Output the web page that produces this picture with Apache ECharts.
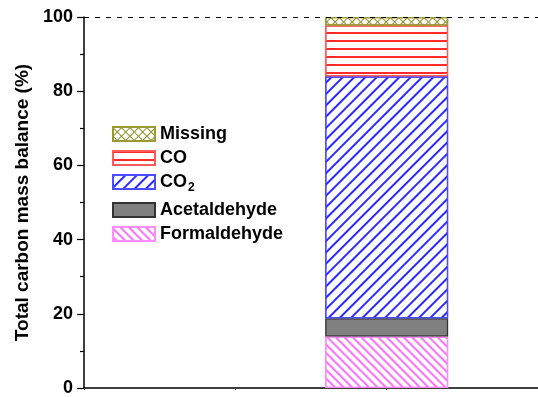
<!DOCTYPE html>
<html>
<head>
<meta charset="utf-8">
<script src="https://cdn.jsdelivr.net/npm/echarts@6/dist/echarts.min.js"></script>
<style>
  html, body { margin: 0; padding: 0; background: #fff; }
  #chart { width: 538px; height: 397px; }
</style>
</head>
<body>
<div id="chart"></div>
<script>
// Carbon mass balance, one stacked column (percent of carbon fed)
const slots = ['', '', 'run', ''];
const barSlot = 2;
const formaldehyde = [13.9];
const acetaldehyde = [4.9];
const co2 = [65.2];
const co = [13.7];
const missing = [2.3];
const yTicks = [0, 20, 40, 60, 80, 100];
const closureLine = 100;

const FONT = 'Liberation Sans';
// place the single value in its slot on the category axis
const toSlots = arr => slots.map((_, i) => (i === barSlot ? arr[0] : '-'));

function hatch(color, gap, rotation) {
  return {
    symbol: 'rect', symbolSize: 1, color: color,
    dashArrayX: [1, 0], dashArrayY: [1.1, gap], rotation: rotation
  };
}

const crossHatch = {
  symbol: 'rect', symbolSize: 1, color: '#8f8f25',
  dashArrayX: [[1, 0], [1, 5]],
  dashArrayY: [1, 0, 5, 0],
  rotation: Math.PI / 4
};

const layers = [
  { name: 'Formaldehyde', data: formaldehyde, fill: '#fff', border: '#ff8cff',
    decal: hatch('#ff70ff', 4, Math.PI / 4) },
  { name: 'Acetaldehyde', data: acetaldehyde, fill: '#808080', border: '#333',
    decal: null },
  { name: 'CO2', data: co2, fill: '#fff', border: '#4b4bff',
    decal: hatch('#2a2aff', 6, -Math.PI / 4) },
  { name: 'CO', data: co, fill: '#fff', border: '#ff5a5a',
    decal: hatch('#ff2a2a', 6, 0) },
  { name: 'Missing', data: missing, fill: '#fff', border: '#9a9a35',
    decal: crossHatch }
];

const series = layers.map((l, i) => {
  const s = {
    name: l.name,
    type: 'bar',
    stack: 'total',
    barWidth: 123,
    data: toSlots(l.data),
    itemStyle: { color: l.fill, borderColor: l.border, borderWidth: 1.3 },
    emphasis: { disabled: true }
  };
  if (l.decal) s.itemStyle.decal = l.decal;
  if (i === 0) {
    s.markLine = {
      silent: true, symbol: 'none', label: { show: false },
      lineStyle: { color: '#000', type: [5, 6], width: 1.2 },
      data: [{ yAxis: closureLine }]
    };
  }
  return s;
});

const legendText = {
  fontFamily: FONT, fontWeight: 'bold', fontSize: 18, color: '#000',
  rich: {
    sub: { fontFamily: FONT, fontWeight: 'bold', fontSize: 12, padding: [12, 0, 0, 1] }
  }
};
const legendBase = {
  orient: 'vertical', left: 112, icon: 'rect', padding: 0,
  itemWidth: 42, itemHeight: 14, itemGap: 6,
  textStyle: legendText, selectedMode: false,
  formatter: n => n === 'CO2' ? 'CO{sub|2}' : n
};

const chart = echarts.init(document.getElementById('chart'), null, { renderer: 'canvas' });
chart.setOption({
  animation: false,
  backgroundColor: '#fff',
  grid: { left: 84, top: 17, bottom: 6, right: -5, containLabel: false },
  legend: [
    Object.assign({}, legendBase, { top: 125, data: ['Missing', 'CO', 'CO2'] }),
    Object.assign({}, legendBase, { top: 201, data: ['Acetaldehyde', 'Formaldehyde'] })
  ],
  xAxis: {
    type: 'category',
    data: slots,
    boundaryGap: false,
    axisLine: { lineStyle: { color: '#000', width: 1.5 } },
    axisTick: { show: true, length: 2, interval: 0, lineStyle: { color: '#444' } },
    axisLabel: { show: false },
    splitLine: { show: false }
  },
  yAxis: {
    type: 'value',
    min: yTicks[0], max: yTicks[yTicks.length - 1], interval: yTicks[1] - yTicks[0],
    name: 'Total carbon mass balance (%)',
    nameLocation: 'middle', nameGap: 50,
    nameTextStyle: { fontFamily: FONT, fontWeight: 'bold', fontSize: 19, color: '#000' },
    axisLine: { show: true, lineStyle: { color: '#000', width: 1.5 } },
    axisTick: { show: true, length: 7, lineStyle: { color: '#000', width: 1.2 } },
    minorTick: { show: true, splitNumber: 2, length: 4, lineStyle: { color: '#000', width: 1.2 } },
    axisLabel: { fontFamily: FONT, fontWeight: 'bold', fontSize: 18, color: '#000', margin: 11 },
    splitLine: { show: false }
  },
  series: series
});
</script>
</body>
</html>
